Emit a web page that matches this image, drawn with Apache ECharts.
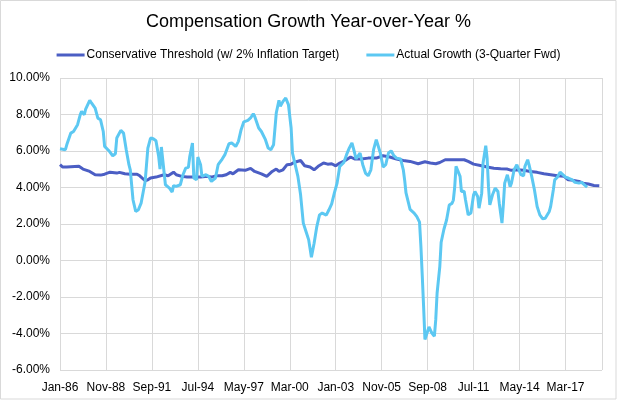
<!DOCTYPE html>
<html>
<head>
<meta charset="utf-8">
<script src="https://cdn.jsdelivr.net/npm/echarts@6/dist/echarts.min.js"></script>
<style>
html,body{margin:0;padding:0;background:#fff;}
#chart{width:617px;height:400px;}
</style>
</head>
<body>
<div id="chart"></div>
<script>
// x positions are months since Jan-1986
var xTickLabels = ['Jan-86','Nov-88','Sep-91','Jul-94','May-97','Mar-00','Jan-03','Nov-05','Sep-08','Jul-11','May-14','Mar-17'];
var seriesNames = ['Conservative Threshold (w/ 2% Inflation Target)', 'Actual Growth (3-Quarter Fwd)'];

var conservativeMonths = [0,2,5,14,17,22,26,30,33,37,42,44,48,52,57,59,63,65,67,71,77,80,84,86,90,94,99,104,109,112,116,120,123,126,128,132,137,141,144,149,153,157,160,162,165,168,171,173,178,181,185,188,191,195,198,201,204,207,211,215,218,223,228,234,239,244,249,254,259,265,270,274,278,281,285,289,294,299,302,306,311,316,321,326,331,334,338,343,348,353,358,363,368,373,376,380,384,387,391,395,399];
var conservativeValues = [5.25,5.12,5.12,5.16,5.01,4.88,4.70,4.68,4.73,4.84,4.79,4.83,4.75,4.73,4.73,4.64,4.37,4.42,4.52,4.57,4.70,4.64,4.84,4.70,4.61,4.57,4.57,4.57,4.61,4.57,4.64,4.64,4.70,4.83,4.75,4.97,4.94,5.05,4.88,4.75,4.61,4.88,5.01,4.88,4.97,5.25,5.28,5.37,5.48,5.19,5.12,4.97,5.16,5.34,5.28,5.30,5.19,5.34,5.48,5.67,5.56,5.56,5.61,5.61,5.74,5.67,5.56,5.48,5.43,5.30,5.41,5.34,5.30,5.37,5.52,5.52,5.52,5.52,5.43,5.28,5.21,5.12,5.06,5.03,5.01,4.94,4.97,4.94,4.88,4.83,4.75,4.70,4.64,4.61,4.42,4.39,4.33,4.24,4.19,4.11,4.10];

var actualMonths = [0,4,5,8,10,13,15,16,18,19,22,23,26,28,30,32,33,36,39,41,42,45,47,49,51,52,54,56,58,60,63,65,67,69,71,73,74,75,76,78,79,81,83,84,86,89,91,93,95,96,98,99,101,102,104,105,106,108,110,112,113,115,117,120,122,125,127,130,132,134,136,139,141,143,144,147,149,152,154,156,158,160,162,163,165,167,169,171,172,174,176,178,180,182,184,186,188,190,192,194,197,199,201,203,205,207,210,212,214,216,218,219,222,224,226,228,230,232,234,235,237,239,241,243,245,247,249,252,254,255,256,259,262,264,266,267,268,269,270,271,273,275,277,278,279,281,282,284,286,288,290,291,292,293,294,296,297,299,300,302,304,306,307,309,310,312,313,315,316,317,318,320,322,324,325,327,328,329,331,333,334,336,338,339,341,343,344,346,347,349,351,353,355,357,359,362,363,365,366,368,370,371,374,376,379,381,384,386,388,390];
var actualValues = [6.12,6.07,6.34,6.98,7.07,7.44,7.99,8.17,7.99,8.30,8.78,8.67,8.35,7.80,7.71,7.07,6.25,6.03,5.74,5.85,6.71,7.13,6.98,6.07,5.25,4.97,3.33,2.69,2.78,3.14,4.33,6.16,6.71,6.67,6.56,5.70,5.01,6.22,6.25,4.15,4.06,3.97,3.75,4.10,4.06,4.15,4.70,5.06,5.10,5.70,6.44,4.52,4.42,5.67,5.25,4.61,4.64,4.70,4.61,4.33,4.24,4.52,5.25,5.56,5.80,6.40,6.44,6.25,6.53,7.17,7.60,7.68,7.81,8.04,7.90,7.26,7.07,6.62,6.16,6.07,6.34,8.08,8.78,8.45,8.72,8.90,8.54,7.26,5.89,5.25,4.61,3.60,2.05,1.59,1.13,0.18,0.95,1.86,2.50,2.60,2.49,2.78,3.10,3.70,4.24,5.16,5.37,5.80,6.16,6.44,5.89,5.56,5.89,5.25,4.79,4.64,4.97,6.07,6.62,6.71,5.89,5.12,5.25,5.89,6.01,5.74,5.61,5.56,4.97,4.40,3.70,2.80,2.60,2.40,2.10,0.80,-0.80,-2.50,-4.33,-4.24,-3.64,-3.96,-4.15,-3.24,-1.78,-0.33,1.00,1.70,2.22,3.04,3.13,3.30,4.00,5.16,5.06,4.61,3.78,3.80,3.33,2.50,2.60,3.60,3.78,3.51,2.87,3.69,5.34,6.29,5.61,4.06,3.05,3.60,3.97,3.78,3.14,2.05,3.05,4.24,4.70,4.04,4.24,4.97,5.25,5.16,4.70,4.64,5.16,5.52,5.25,4.61,3.88,2.96,2.50,2.29,2.32,2.69,2.96,3.88,4.42,4.57,4.84,4.79,4.57,4.52,4.42,4.28,4.24,4.28,4.15,4.02];

function pairs(xs, ys){ return xs.map(function(x,i){ return [x, ys[i]]; }); }

var font = 'Liberation Sans, Arial, sans-serif';
var chart = echarts.init(document.getElementById('chart'), null, {renderer:'canvas'});
chart.setOption({
  animation: false,
  backgroundColor: '#fff',
  graphic: [{type:'rect', shape:{x:0.5,y:0.5,width:615.5,height:398.5}, style:{fill:'none', stroke:'#d9d9d9', lineWidth:1}, silent:true}],
  title: {
    text: 'Compensation Growth Year-over-Year %',
    left: 'center', top: 8,
    textStyle: {fontFamily: font, fontSize: 18, fontWeight: 'normal', color: '#000'}
  },
  legend: {
    top: 44, left: 'center',
    itemWidth: 28, itemHeight: 3, itemGap: 27,
    icon: 'rect',
    textStyle: {fontFamily: font, fontSize: 12, color: '#000', padding:[0,0,0,-3]},
    data: seriesNames
  },
  grid: {left: 60, right: 15, top: 78, bottom: 30, containLabel: false},
  xAxis: {
    type: 'value', min: 0, max: 401, interval: 34,
    axisLine: {show: false}, axisTick: {show: false},
    splitLine: {show: true, lineStyle: {color: '#d9d9d9', width: 1}},
    axisLabel: {
      fontFamily: font, fontSize: 12, color: '#000', margin: 12,
      showMaxLabel: false,
      formatter: function(v){ var i = Math.round(v/34); return (v % 34 === 0 && xTickLabels[i]) ? xTickLabels[i] : ''; }
    }
  },
  yAxis: {
    type: 'value', min: -6, max: 10, interval: 2,
    axisLine: {show: false}, axisTick: {show: false},
    splitLine: {show: true, lineStyle: {color: '#d9d9d9', width: 1}},
    axisLabel: {fontFamily: font, fontSize: 12, color: '#000', margin: 10,
      formatter: function(v){ return v.toFixed(2) + '%'; }}
  },
  series: [
    {name: seriesNames[0], type: 'line', data: pairs(conservativeMonths, conservativeValues),
     showSymbol: false, symbol: 'none', color: '#4B5EC4', lineStyle: {width: 3, color: '#4B5EC4'}, z: 2},
    {name: seriesNames[1], type: 'line', data: pairs(actualMonths, actualValues),
     showSymbol: false, symbol: 'none', color: '#5CC8F2', lineStyle: {width: 3, color: '#5CC8F2'}, z: 3}
  ]
});
</script>
</body>
</html>
